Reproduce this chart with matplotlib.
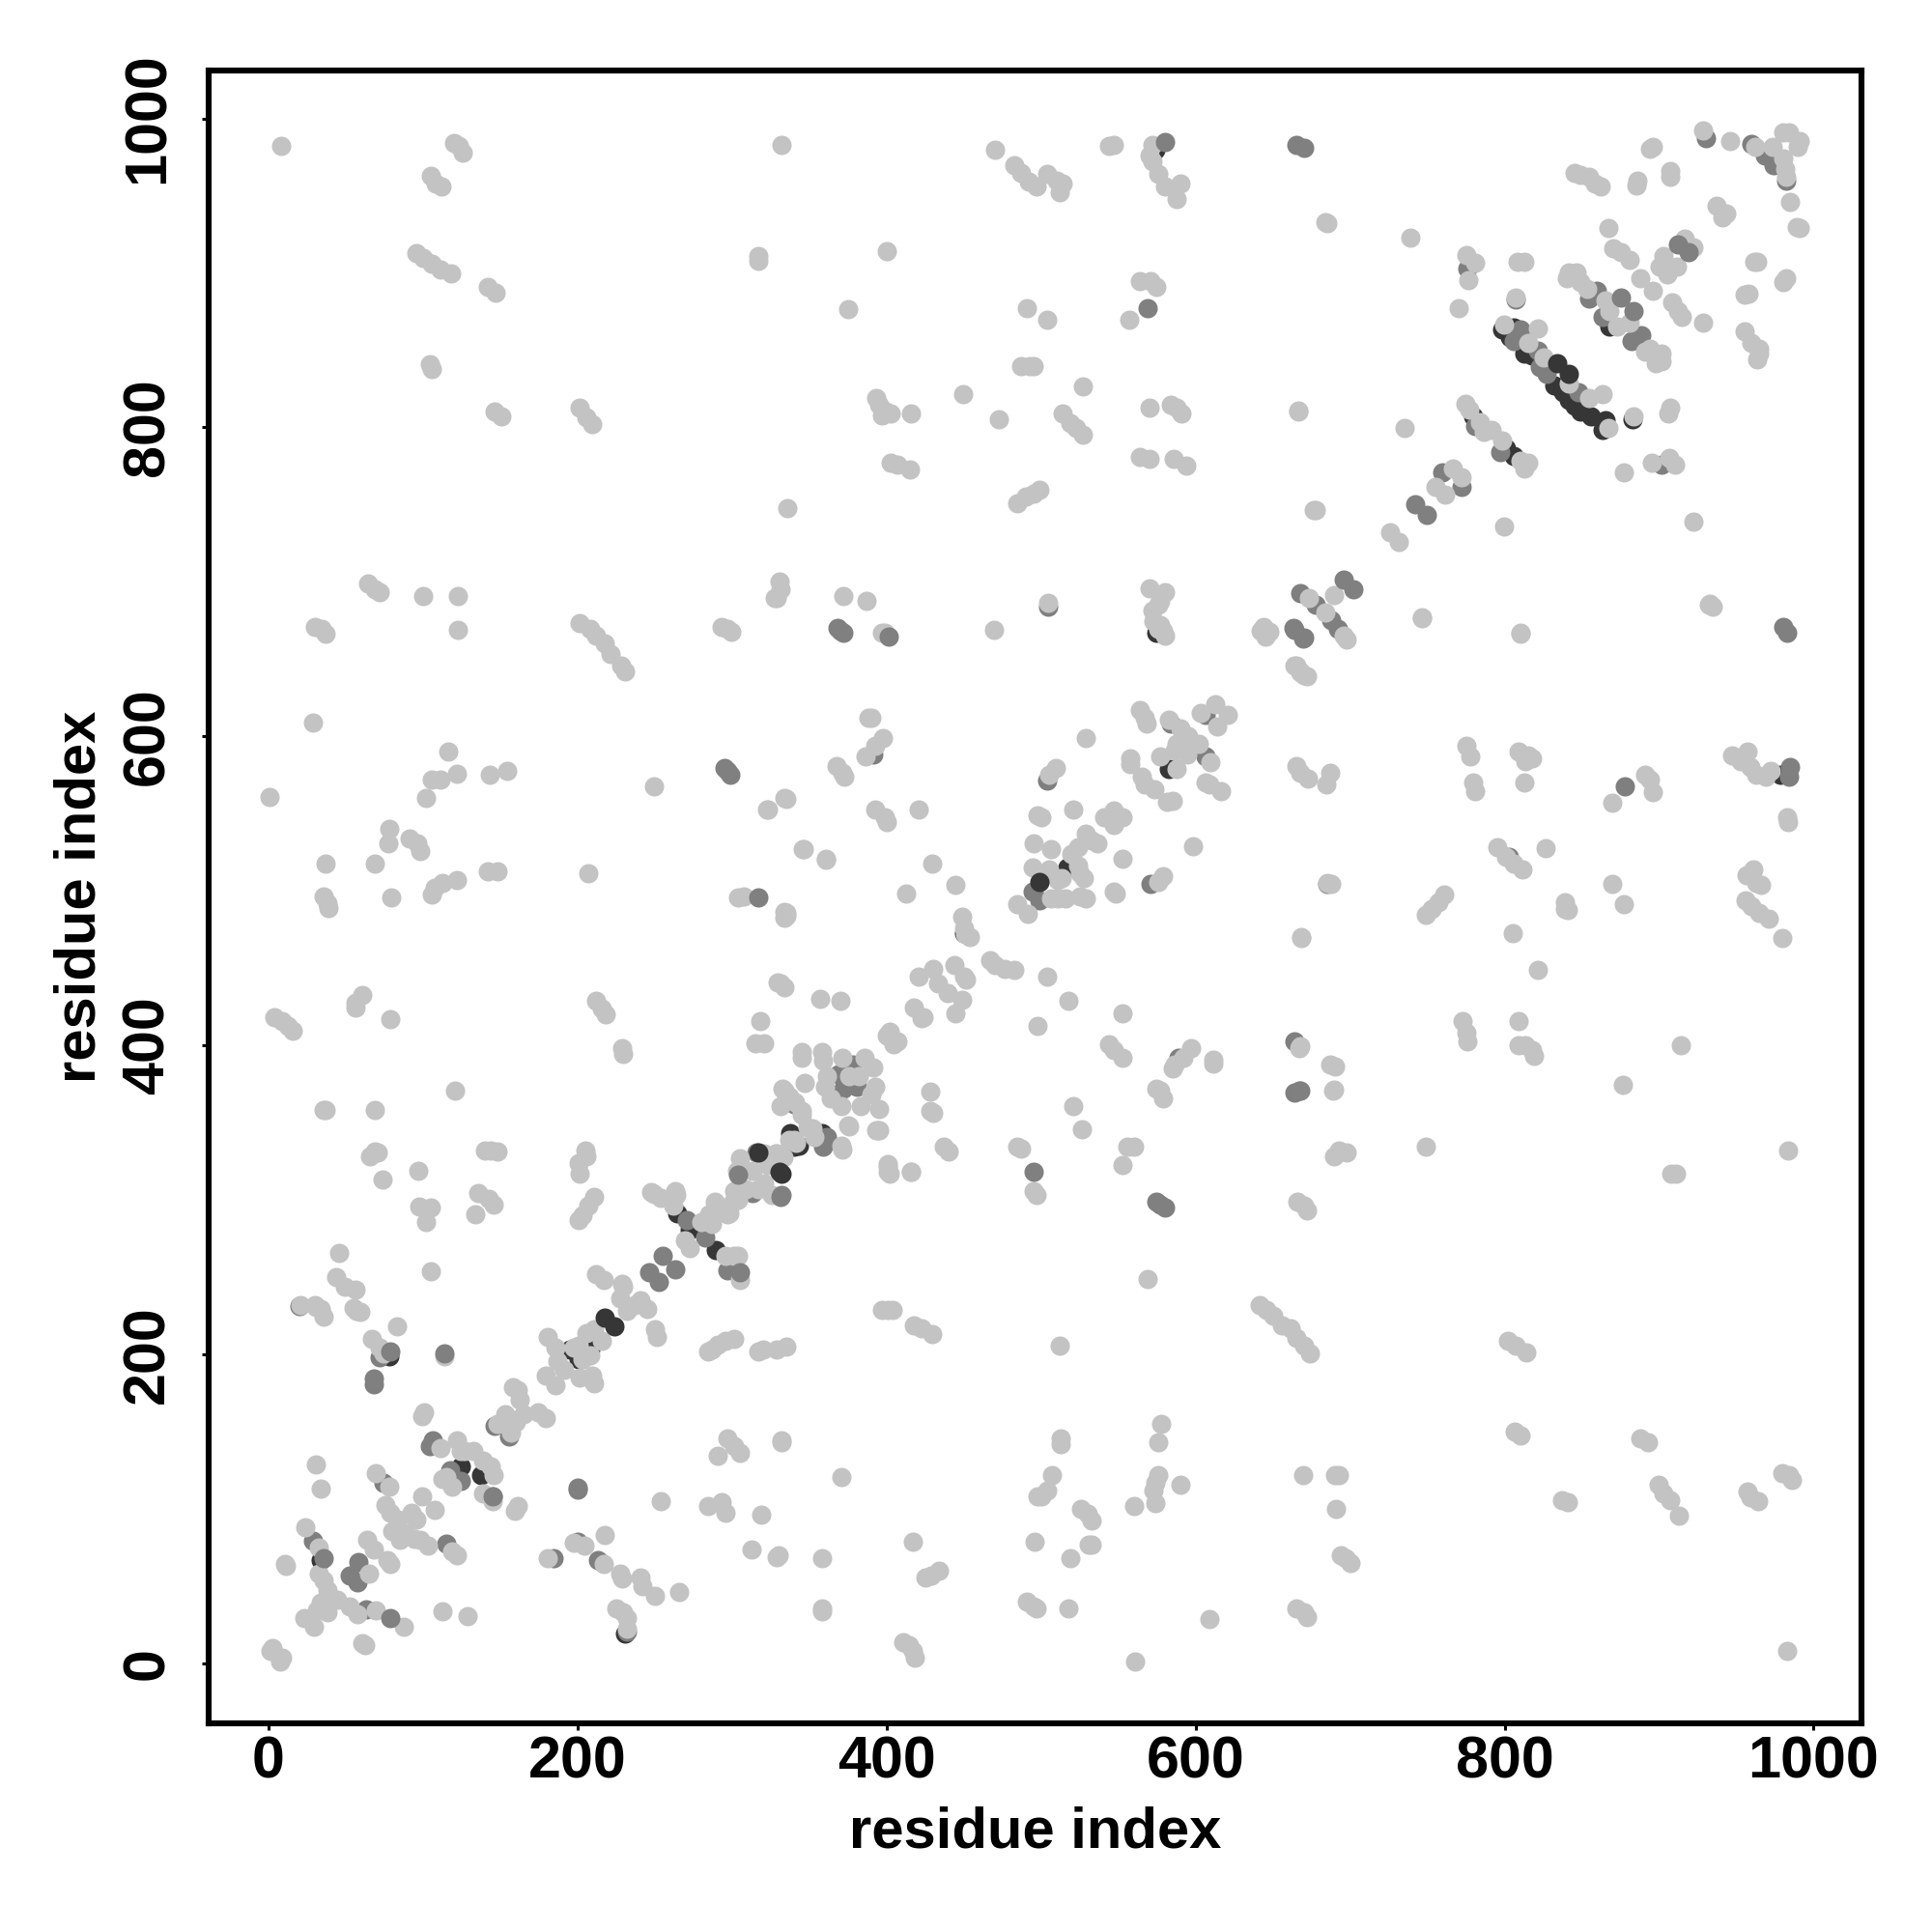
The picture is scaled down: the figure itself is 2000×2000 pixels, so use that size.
"""Residue contact map, grey points by contact strength."""
import matplotlib
matplotlib.use('Agg')
import matplotlib.pyplot as plt

plt.rcParams['font.family'] = ['Liberation Sans', 'DejaVu Sans']

tick_values = [0, 200, 400, 600, 800, 1000]
axis_label = 'residue index'

# (residue i, residue j)
dark_under = [(33.7, 66.7), (195, 203), (201, 197), (208, 203), (124.6, 127.7), (137.7, 121.7),
              (358, 343), (340, 334.7), (337.7, 343), (343, 335), (272.9, 280.8), (264.5, 291.6),
              (289.6, 267.6), (583, 578.7), (574.5, 667), (517, 515.3), (798.6, 863.2),
              (805.8, 864.4), (810.6, 858.4), (813, 847.6), (832, 827.3), (841.7, 817.7),
              (848.9, 810.5), (856, 807), (863.2, 798.6), (865.6, 804.5), (817.8, 846.4),
              (838, 822.5), (845.3, 814.1), (803.4, 858.4), (779.5, 807), (801, 786.6),
              (805.8, 781.8), (868, 865.6), (574, 980), (978.7, 575.4), (230.5, 19.5),
              (450, 473), (78, 199), (883, 805.5)]
mid_under = [(20, 231.5), (72, 198), (67.9, 181), (200, 112.5), (146.1, 154), (155.6, 146.9),
             (106.1, 144.5), (104.2, 140.9), (117.4, 125.3), (124.6, 118.1), (28.9, 79.4),
             (74.3, 117), (115, 77.5), (200.4, 78.7), (184.3, 67.9), (213, 66.7), (58.3, 65.5),
             (52.8, 57.2), (57.6, 52.4), (63, 35), (231.7, 20.5), (144.9, 108.1), (282.4, 276),
             (270.5, 286.8), (296.8, 254.5), (313.5, 304.7), (368.8, 381.4), (378.3, 387.4),
             (380.7, 373), (372, 372), (340, 362.2), (361.6, 340.7), (316, 331), (359, 334.7),
             (504.4, 684), (391.5, 588.3), (504, 571.5), (588.8, 392), (664, 402.4), (664, 369.5),
             (668, 370.6), (685, 504.5), (571, 504.6), (494.3, 499.8), (499.1, 493.8),
             (584, 608.6), (606.8, 587), (606.8, 614), (805.8, 856), (810.6, 863.2), (821.4, 850),
             (827.3, 834.5), (847.7, 822.5), (822.5, 839.2), (797.4, 784.2), (780.7, 801),
             (854.8, 883.5), (863.2, 871.5), (859.6, 888.3), (882.4, 856), (888.3, 859.6),
             (759.9, 771), (772.3, 761.5), (775.9, 902.6), (960, 983.2), (968.5, 976), (974.4, 969.6),
             (982.3, 960), (930.2, 987.5), (901.5, 775.8), (807, 883), (664, 669), (670, 664),
             (668, 693), (678, 685.4), (688, 675), (692, 669.5), (803, 522), (878, 568), (984, 574)]
light_pts = [
    (8, 982), (120, 984), (123, 982), (126, 978), (105, 963), (108, 958), (112, 956), (332, 983),
    (470, 980), (483, 970), (487, 965), (492, 959), (497, 956), (504, 964), (510, 960), (514, 958),
    (512, 952), (547, 983), (544, 982), (572, 983), (570, 976), (572, 972), (576, 964), (580, 956),
    (588, 948), (590, 958), (95.6, 913), (100, 910), (106, 906), (111.6, 902), (118, 900), (142, 891),
    (147, 887), (104.4, 841), (106, 838), (146.6, 810.5), (150.6, 807), (201.6, 813), (205.6, 806.5),
    (209.6, 802), (317, 911), (317, 908), (375.4, 876.7), (400, 914), (491, 877.5), (503.7, 869.5),
    (557, 870), (564, 895), (570.6, 895), (574.6, 891), (393, 819), (395.4, 814.6), (399.3, 810.6),
    (397, 808), (402.5, 809), (416, 809), (449.5, 821.7), (472.6, 805), (487, 840), (492.5, 840),
    (495, 840), (526.8, 826.6), (514, 809), (519, 803), (523, 799.5), (527, 795.4), (570, 813),
    (584, 814.6), (588, 813), (590.6, 809), (564, 781), (570, 779.6), (586, 779.6), (594, 775.5),
    (666.3, 810.5), (402.5, 777), (407, 776), (415, 773), (335.5, 748), (484.6, 750.8), (490, 755),
    (495, 757), (499, 759.5), (677.5, 746.7),
    (644, 671), (648, 667.8), (64.6, 699), (68.6, 695), (71.7, 693.4), (100.4, 691), (122.7, 691),
    (122.7, 669), (30.3, 671), (34.3, 669.5), (36.7, 666.3), (201.6, 673.5), (208, 669.5),
    (212, 665.5), (217.6, 660), (221.6, 653.5), (228, 645.6), (231, 642), (293.3, 671), (297, 669.5),
    (299.7, 668), (329, 689.4), (331.5, 695), (331, 700), (327.6, 689.4), (372, 691), (387, 688),
    (570, 695.8), (576, 685.4), (580, 693.4), (576, 669.5), (580, 665.5), (673.5, 689.4), (684, 680),
    (696, 665.5), (698, 663), (689.4, 691.8), (664, 645.6), (668, 641.6), (672, 639),
    (0.8, 561), (28.7, 609), (116.4, 590), (106, 572), (111.6, 572), (122, 576), (102, 560),
    (143.5, 575.5), (154.6, 578), (249.5, 568), (323, 553), (335, 559.5), (346.7, 527), (361, 520),
    (78, 540), (68.6, 518), (77.3, 531), (91.6, 534), (96.4, 531), (98, 526), (36.7, 518), (35.9, 496.5),
    (38, 492), (39, 489), (79.7, 495.7), (107.6, 502), (106, 498), (112.4, 505), (122, 507), (142, 512.5),
    (148, 512.5), (207, 511.6), (303.7, 495.7), (307.6, 496.5), (335, 486), (335, 484),
    (4, 418.4), (8.8, 416), (12.8, 412.8), (16, 409.6), (56.6, 428), (60.6, 432.8), (56.6, 424.8),
    (79, 417), (212, 428.8), (216, 424), (218.4, 420), (228.7, 398.5), (229.5, 394.5),
    (36, 358), (37, 358), (69, 358), (68.6, 331.5), (71, 331), (66, 328), (121, 370.6),
    (140, 332), (144, 332), (148, 331.5), (205, 332), (206, 328), (249.5, 304), (264, 303),
    (73.6, 313), (96.8, 319), (97.8, 296), (105, 295), (101.8, 285.6), (135.8, 304.7), (142.5, 301),
    (145.6, 297), (133.6, 290.8), (201.6, 317), (201, 324), (210.7, 302), (207, 296.3), (203.5, 290.4),
    (201, 287), (45.6, 266), (105, 254), (43.7, 250), (49.2, 243.7), (56.4, 242), (57.1, 228), (55, 230),
    (59.3, 227.7), (20.5, 232.3), (30, 232.3), (33.7, 229.4), (36, 224.6), (31, 231), (83.2, 218),
    (67.2, 210), (72, 204.3), (74.3, 200.7), (113.8, 199), (210.7, 216.2), (215.5, 209), (205.9, 213.8),
    (201, 206), (208.3, 199.5), (203.5, 197), (197.5, 204.3), (180.8, 211.4), (185.6, 204.3),
    (186.8, 195.9), (191.5, 190), (201.1, 185.1), (210.7, 181.5), (209.5, 186.3), (179.6, 186.3),
    (185.6, 179.9), (229.8, 243.7), (228.6, 246), (211.9, 252), (216.7, 248.5), (227.4, 236.5),
    (232.2, 228.2), (237, 231.8), (245.4, 229.4), (240.6, 235.3), (250.1, 216.2), (251.3, 211.4),
    (247.8, 305.2), (253.7, 301.1), (263.3, 305.9), (262.1, 296.3), (280, 285.6), (287.2, 284.4),
    (269.3, 273.6), (272.9, 268.8), (295.6, 264), (303.9, 263.6), (301.5, 263.6), (305.2, 248.5),
    (290.8, 296.3), (298, 291.6), (304, 300), (301.6, 306), (325.5, 303.5), (295.6, 209), (301.6, 210.2),
    (287.2, 203), (290.8, 206.6), (284.8, 201.9), (317.1, 201.9), (320, 203), (329.1, 203), (335, 205.4),
    (296.8, 145.6), (301.6, 140.9), (305.2, 136.1), (290.8, 134.2), (332, 144.5), (332, 143),
    (100.6, 162.4), (99.4, 160), (158, 179.1), (162.8, 170.8), (161.6, 176.7), (153.3, 161.2),
    (148.5, 155.2), (156.8, 149.2), (160.4, 156.4), (165.2, 161.2), (174.8, 162.4), (179.6, 158.8),
    (111.4, 139.2), (121.7, 144.5), (127, 137.3), (132.9, 137.3), (138.9, 131.3), (124.6, 137.3),
    (143.7, 127.7), (145.6, 121.7), (115, 120.5), (118.6, 114.6), (112.6, 119.3), (138.9, 109.8),
    (144.9, 105), (161.6, 101.9), (159.2, 99), (30.8, 129), (33.7, 113), (69.5, 123), (78.4, 114.6),
    (75.5, 102.6), (79.1, 97.8), (99.4, 108.1), (107.8, 99.7), (92.3, 97.8), (95.9, 93), (83.9, 93),
    (80.3, 85.9), (88.7, 84.7), (94.7, 81), (103, 76.3), (98.2, 79.9), (85.1, 79.9), (118.6, 72.7),
    (122.2, 69.8), (23.6, 88.2), (32.5, 75.1), (11.4, 63.1), (10.5, 64.5), (63.6, 79.9), (68.3, 73.9),
    (76.7, 66.7), (79.1, 64.3), (65.2, 58.3), (32.5, 58.3), (36, 53.6), (38.4, 47.6), (33.7, 39.2),
    (31.3, 34.4), (22.9, 29.7), (29.4, 23.7), (44.4, 41.6), (52.8, 36.8), (57.6, 32), (38.4, 33.2),
    (69.5, 34.4), (87.5, 24.1), (112.6, 34), (128.6, 30.8), (62.8, 11.7), (61, 13), (2.6, 10), (1, 8),
    (9, 3.8), (7.3, 1.4), (253.7, 105), (284.8, 102.1), (293.2, 104.3), (295.6, 97.8), (318.8, 96.6),
    (217.4, 83.5), (204.7, 76.3), (197.5, 78), (216.7, 64.3), (227.4, 58.3), (228.6, 54.8), (240.6, 56),
    (241.8, 50), (250.1, 44), (265.7, 46.4), (225, 35.6), (229.8, 33.2), (232.2, 29.6), (231.7, 22.5),
    (312.8, 73.9), (329.1, 69.1), (330.3, 70.3), (181, 68),
    (358.6, 68), (358.6, 36), (358.6, 34), (371, 121), (417, 79), (425, 56), (429, 57), (434, 60),
    (411, 14), (414.5, 12), (417, 8), (418.4, 4), (496, 79), (491, 40), (495, 37), (497, 36), (518, 36),
    (519, 68), (531, 77), (533, 77), (507, 122), (504, 112), (500, 108), (498, 108), (512.5, 146),
    (513, 142), (526, 100), (530, 97), (533, 92.5), (560, 102), (561, 1.6), (578, 155), (576, 143),
    (576, 122), (574, 117), (573, 112), (574, 104), (590, 115.5), (609, 29), (665.5, 36), (670, 33.5),
    (672, 30), (669.5, 122), (690, 122), (693, 122), (691, 100), (694, 70), (697, 68), (700, 65),
    (806.5, 150), (810, 147.5), (837, 106), (841, 104.4), (888, 146), (893, 143), (900, 115.6),
    (903, 110), (907, 106), (913, 95.6), (957, 111.6), (959, 107.6), (964, 105), (980, 123.5),
    (984, 122), (986, 119), (983, 8), (397, 229), (401, 229), (404, 229), (418, 219), (423, 217),
    (429.6, 213), (512, 206), (569, 249), (641.6, 232), (645.6, 229), (650, 225), (656, 219),
    (661.5, 217), (665.5, 211), (670, 205.6), (674, 201), (802, 209), (807, 205.6), (814, 201.6),
    (666, 299), (670, 296.5), (672, 293),
    (690, 386.5), (689.4, 371.4), (689.4, 328.4), (692.6, 332.3), (698, 330.7), (749, 334.7),
    (773, 416), (775.5, 408), (776, 402.5), (809, 416), (809, 400), (813.6, 400), (817.7, 397), (819, 393),
    (876.7, 374.6), (914, 400), (911, 317), (908, 317), (983.5, 332),
    (749, 484.6), (753, 488.5), (757, 492.5), (761, 498), (688, 504.5), (668.7, 469.4), (795, 528.4),
    (801, 522), (806, 518), (811.5, 514), (826.5, 527.6), (805, 472.6), (821.7, 448.7), (839, 492.5),
    (840.8, 487.8), (839, 488.5), (869.5, 504.5), (877.5, 491.7), (956.4, 510), (961, 514), (962.8, 505.3),
    (966, 504), (956, 494), (960, 490), (965, 486), (970.8, 482), (980, 469.4), (775.5, 593.8),
    (778, 587.4), (779.5, 570), (781, 564.3), (809, 590), (815.3, 588), (813.6, 584), (818, 586),
    (813, 570), (869.5, 557), (891, 575.4), (894, 572), (896, 564), (947, 588), (953, 584), (959, 580),
    (963, 575.4), (969, 574), (957, 590), (972.5, 578), (982.7, 547.5), (983.5, 544.4), (746.8, 676.7),
    (810.6, 666.3), (932, 685.4), (935, 684),
    (398.7, 667), (397, 667), (469.7, 669), (504.6, 686.4), (572, 681.6), (577, 672),
    (579, 668.4), (573, 674.4), (577, 687.6), (642, 668.4), (645, 664.8), (667.8, 642), (670, 639.7),
    (665.4, 645.7), (390.3, 612.2), (388, 612.2), (397.5, 599), (392.7, 594.3), (386.7, 587),
    (367.6, 581), (371.2, 576.3), (372.4, 574), (334, 560.3), (322.6, 552.9), (392.7, 552.9),
    (398.7, 547.6), (399.9, 544.5), (420.7, 552.9), (345.6, 526.8), (360.6, 520.8), (429.3, 517.7),
    (444.6, 503.9), (412.5, 498.3), (334, 486.6), (334, 483), (448.7, 483.5), (450, 475.9), (453.7, 469.9),
    (451, 472), (466.8, 455.5), (470.4, 451.9), (476.4, 449.5), (482.4, 448.8), (503.7, 444.8),
    (517.5, 429.2), (552.5, 420.8), (498, 412.5), (430.2, 449.5), (420.7, 444.8), (444.1, 451.9),
    (450, 444.8), (451.3, 442.4), (433.3, 440), (439.3, 433.8), (449, 429.7), (444.6, 420.8),
    (417.8, 424.4), (423.8, 418.5), (422.5, 417.5), (402.3, 408.9), (407, 402.9), (399.9, 406.5),
    (404.6, 400.5), (331.7, 439.9), (334, 437.6), (329.3, 441), (356.8, 430.4), (370, 428.8), (318.5, 416),
    (321, 401.7), (315, 401.7), (344.9, 395.7), (344.9, 392), (358.5, 395.7), (359.2, 390),
    (371.2, 392), (385.5, 392), (391.5, 386), (382, 380), (361.6, 380), (360.4, 373), (392.7, 373),
    (364, 365.8), (371, 361), (383, 361), (395, 358.7), (390.3, 368), (376, 380), (347.2, 376),
    (332.9, 371.8), (331.7, 361), (344.9, 357.5), (352, 346.7), (371.2, 332.8), (375.5, 347.9),
    (393.4, 345), (395, 345), (341.3, 337), (328, 329.9), (321, 329.9), (323, 322.8), (333, 327.5),
    (401, 321.6), (401, 318), (416, 318), (428.6, 369.9), (430.2, 356.7), (428.6, 357.4), (437, 334.7),
    (440.5, 331.2), (484.3, 334.7), (487.2, 333.6), (495, 306), (497, 303), (520.7, 361), (526.6, 346),
    (560, 334.7), (556, 334.7), (552.5, 322.8), (577, 370.6), (579.3, 365.8), (574.5, 372), (544, 400.5),
    (547, 397), (553, 392), (586.4, 387.4), (597.2, 398), (592.4, 392), (585, 385), (611.6, 390.5),
    (611.6, 388.5), (667.8, 399.3), (667.3, 398), (687, 387.4), (688.8, 370.6),
    (285, 291), (289, 299), (297, 291), (301, 299), (303, 307), (309, 307), (303, 319), (305, 327),
    (313, 319), (325, 323), (329, 330), (317, 307), (321, 311), (337, 339), (334, 371), (341, 363),
    (345, 355), (337, 367), (349, 347), (340, 339), (353, 341), (371, 335), (375, 348), (394.5, 345),
    (401, 323), (402, 317), (416, 318), (529, 599), (509.4, 579.4), (505, 575), (498, 548.8),
    (500.3, 547.6), (520.7, 552.9), (547, 548.8), (541, 547.6), (547, 542.8), (553, 547.6), (547, 552),
    (529, 536.9), (536.2, 530.9), (532.6, 533), (524.2, 528.5), (519.5, 523.7), (495.5, 530.9),
    (506.3, 527.3), (494.3, 515.3), (524.2, 516.5), (527.8, 508.2), (525.5, 511.7), (505.1, 514.1),
    (511.1, 507), (513.5, 508.2), (484.8, 491.4), (491.2, 485.4), (506.3, 495.5), (515.9, 495.5),
    (511, 495), (529, 495), (525.5, 496.2), (547, 499.8), (548.6, 498.6), (553, 520.8), (598.4, 529.2),
    (579.3, 509.3), (575.7, 505.8), (563.7, 617), (568.5, 608.6), (567.3, 612.2), (582.8, 611),
    (590, 605), (595, 600), (602, 595.5), (609.6, 583.5), (587.6, 595.5), (577, 587), (586.4, 590.7),
    (587.6, 578.7), (594.8, 588.3), (557.7, 585.9), (557.7, 582.3), (565, 574), (567.3, 569.2),
    (573.3, 565.6), (585.2, 558.4), (581.7, 557.9), (609.2, 569), (616.3, 564.4), (606.8, 570),
    (612.8, 620.6), (621.1, 614), (603.2, 615), (614, 606.2), (665.4, 581), (667.8, 576.3), (672.6, 572.7),
    (687, 576.3), (684.5, 569.2), (685, 505), (668.5, 469.9), (666.6, 811), (735.2, 799.8),
    (685.5, 932.5), (684, 933), (738.8, 922.7), (725.7, 732), (731.7, 725.6), (676.6, 746.7), (799.8, 735.9),
    (922.5, 738.8), (766.3, 773.4), (772.3, 767.5), (755.6, 761.5), (761.5, 756.7), (774.7, 815.3),
    (777, 811.7), (784.3, 803.4), (786.7, 797.4), (791.4, 798.6), (798.6, 791.4), (810.6, 778.2),
    (815.4, 777), (813, 773.4), (799.8, 866.7), (821.4, 863.9), (815.4, 854.8), (825, 845.2), (841.7, 828.5),
    (863.2, 821.8), (854.8, 818.9), (867.5, 799.8), (883.5, 807), (907, 813), (906, 809.3), (876.9, 771),
    (895.5, 777), (906.3, 780.6), (910.6, 775.8), (770.6, 877), (775.2, 911.7), (780.7, 906.7), (776.4, 895.4),
    (807, 884.2), (808.2, 907), (813, 907.4), (841.7, 900.2), (846.5, 900.2), (840.5, 896.6), (848.9, 894.3),
    (853.6, 889.5), (865.6, 882.3), (868, 875.1), (872.8, 865.6), (881.2, 868), (894.3, 851.2), (901.5, 847.6),
    (897.9, 841.6), (901.5, 842.8), (890.7, 848.8), (867.5, 929), (870.4, 915.8), (875.2, 913.4),
    (881.2, 908.6), (887.6, 896.6), (896.2, 888.3), (908.2, 881.1), (914.6, 871.5), (928.5, 868),
    (912.3, 875.1), (902.7, 911), (900.3, 903.8), (905.1, 899), (911.5, 903.8), (916.3, 922.5), (922.5, 916.5),
    (963.7, 907.4), (961.5, 907.4), (982.3, 896.6), (980.4, 894.2), (957.7, 886.4), (955.3, 886),
    (955.3, 862), (960, 855), (964.9, 851.2), (963.7, 844), (964.9, 847.6), (932.6, 685.7), (810.6, 667),
    (746.5, 677), (845.3, 964.8), (848.9, 963.6), (854.8, 962.4), (862, 956), (858.4, 958), (896.2, 981.6),
    (894.3, 980.4), (886, 960), (885.2, 956.4), (907, 966), (907, 962.4), (928.5, 992.3), (945.7, 985.2),
    (962.5, 981.6), (973.3, 981.6), (980.4, 974.4), (981.6, 967.2), (982.3, 962.4), (984, 991), (991.3, 985.2),
    (990, 981.6), (980.4, 991), (984.5, 945.7), (988.8, 930), (991.3, 929), (937.4, 943.3), (943.3, 938.5),
    (940.9, 936),
]
top_mid = [(78.6, 201.9), (113.8, 200.7), (67.9, 184.6), (200.4, 113.8), (35.6, 68.4), (78.6, 29.2),
           (254.9, 263.6), (263.3, 255.2), (246.6, 253.3), (252.5, 247.3), (305.2, 253.3), (304, 316.7),
           (331.5, 302.3), (332, 303), (144.9, 108.1), (370, 668.4), (368, 670), (372, 667), (401.5, 664.8),
           (295, 579.4), (297, 577.5), (299, 575.4), (317, 495.7), (495.5, 318), (663.5, 670), (669.7, 663.6),
           (670, 981), (665, 983), (580, 985), (569, 877.5), (667, 371), (742, 750), (749.6, 743.6),
           (875.2, 884.2), (883.5, 875.6), (912.3, 918.2), (919.4, 913.4), (980.4, 670.6), (982.8, 667),
           (985, 580), (696, 701.4), (702, 695), (574.6, 299), (577, 297), (580, 295)]
top_dark = [(217.9, 223.9), (223.8, 218.1), (833.8, 841.6), (841.7, 834.5), (499.1, 505.7), (317, 331),
            (332, 317), (330.5, 318)]

fig = plt.figure(figsize=(10, 10), dpi=200)
ax = fig.add_axes([216 / 2000, 1 - 1784 / 2000, (1927 - 216) / 2000, (1784 - 73) / 2000])

# same order as the overlaps in the picture, dark rims under the light points
groups = [(dark_under, '#363636'), (mid_under, '#7f7f7f'), (light_pts, '#c3c3c3'),
          (top_mid, '#808080'), (top_dark, '#363636')]
for pts, color in groups:
    xs, ys = zip(*pts)
    ax.scatter(xs, ys, s=52, c=color, linewidths=0, clip_on=True)

ax.set_xlim(-38.7, 1031)
ax.set_ylim(-38.7, 1031)
ax.set_xticks(tick_values)
ax.set_yticks(tick_values)
ax.tick_params(axis='x', length=2.6, width=1.1, pad=2, labelsize=22)
ax.tick_params(axis='y', length=2.6, width=1.1, pad=9.5, labelsize=22)
for lab in ax.get_xticklabels():
    lab.set_fontweight('bold')
for lab in ax.get_yticklabels():
    lab.set_fontweight('bold')
    lab.set_rotation(90)
    lab.set_va('center')
for side in ax.spines.values():
    side.set_linewidth(2.2)

ax.set_xlabel(axis_label, fontsize=21.5, fontweight='bold')
ax.set_ylabel(axis_label, fontsize=21.5, fontweight='bold')
ax.xaxis.set_label_coords(0.5, -0.050)
ax.yaxis.set_label_coords(-0.0615, 0.5)

fig.savefig('out.png', dpi=200)
plt.close(fig)
